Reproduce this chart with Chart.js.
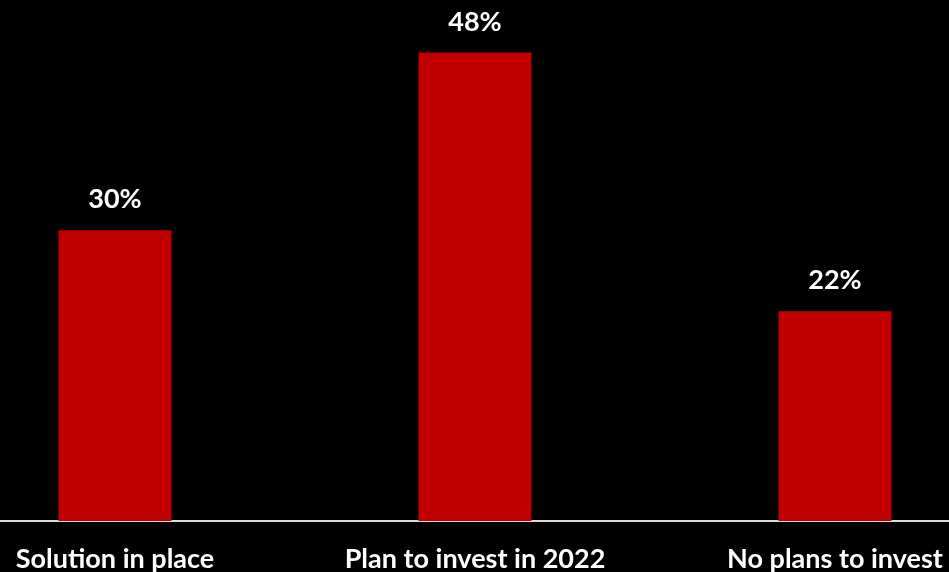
<!DOCTYPE html>
<html>
<head>
<meta charset="utf-8">
<script src="https://cdn.jsdelivr.net/npm/chart.js@4"></script>
<style>
  html, body { margin: 0; padding: 0; background: #000; }
  #wrap { position: relative; width: 949px; height: 572px; overflow: hidden; background: #000; }
  #c { position: absolute; left: -65px; top: 0; }
</style>
</head>
<body>
<div id="wrap"><canvas id="c" width="1080" height="572"></canvas></div>
<script>
const categories = ['Solution in place', 'Plan to invest in 2022', 'No plans to invest'];
const values = [29.8, 48, 21.5];
const valueLabels = ['30%', '48%', '22%'];

const FONT = 'Lato, "Open Sans", sans-serif';

const valueLabelPlugin = {
  id: 'valueLabels',
  afterDatasetsDraw(chart) {
    const ctx = chart.ctx;
    const meta = chart.getDatasetMeta(0);
    ctx.save();
    ctx.fillStyle = '#ffffff';
    ctx.font = 'bold 27px ' + FONT;
    ctx.textAlign = 'center';
    ctx.textBaseline = 'alphabetic';
    meta.data.forEach((bar, i) => {
      ctx.fillText(valueLabels[i], bar.x, bar.y - 22);
    });
    ctx.restore();
  }
};

new Chart(document.getElementById('c'), {
  type: 'bar',
  data: {
    labels: categories,
    datasets: [{
      data: values,
      backgroundColor: '#C00000',
      borderWidth: 0,
      barPercentage: 0.314,
      categoryPercentage: 1
    }]
  },
  options: {
    responsive: false,
    animation: false,
    devicePixelRatio: 1,
    layout: { padding: { top: 33, bottom: 0, left: 0, right: 0 } },
    plugins: { legend: { display: false }, tooltip: { enabled: false } },
    scales: {
      x: {
        grid: { display: false, drawTicks: false },
        border: { display: true, color: '#d9d9d9', width: 2 },
        ticks: {
          color: '#ffffff',
          font: { family: FONT, size: 27, weight: 'bold' },
          padding: 22,
          maxRotation: 0,
          autoSkip: false
        },
        afterFit(scale) { scale.height = 51; }
      },
      y: {
        display: false,
        min: 0,
        max: 50
      }
    }
  },
  plugins: [valueLabelPlugin]
});
</script>
</body>
</html>
